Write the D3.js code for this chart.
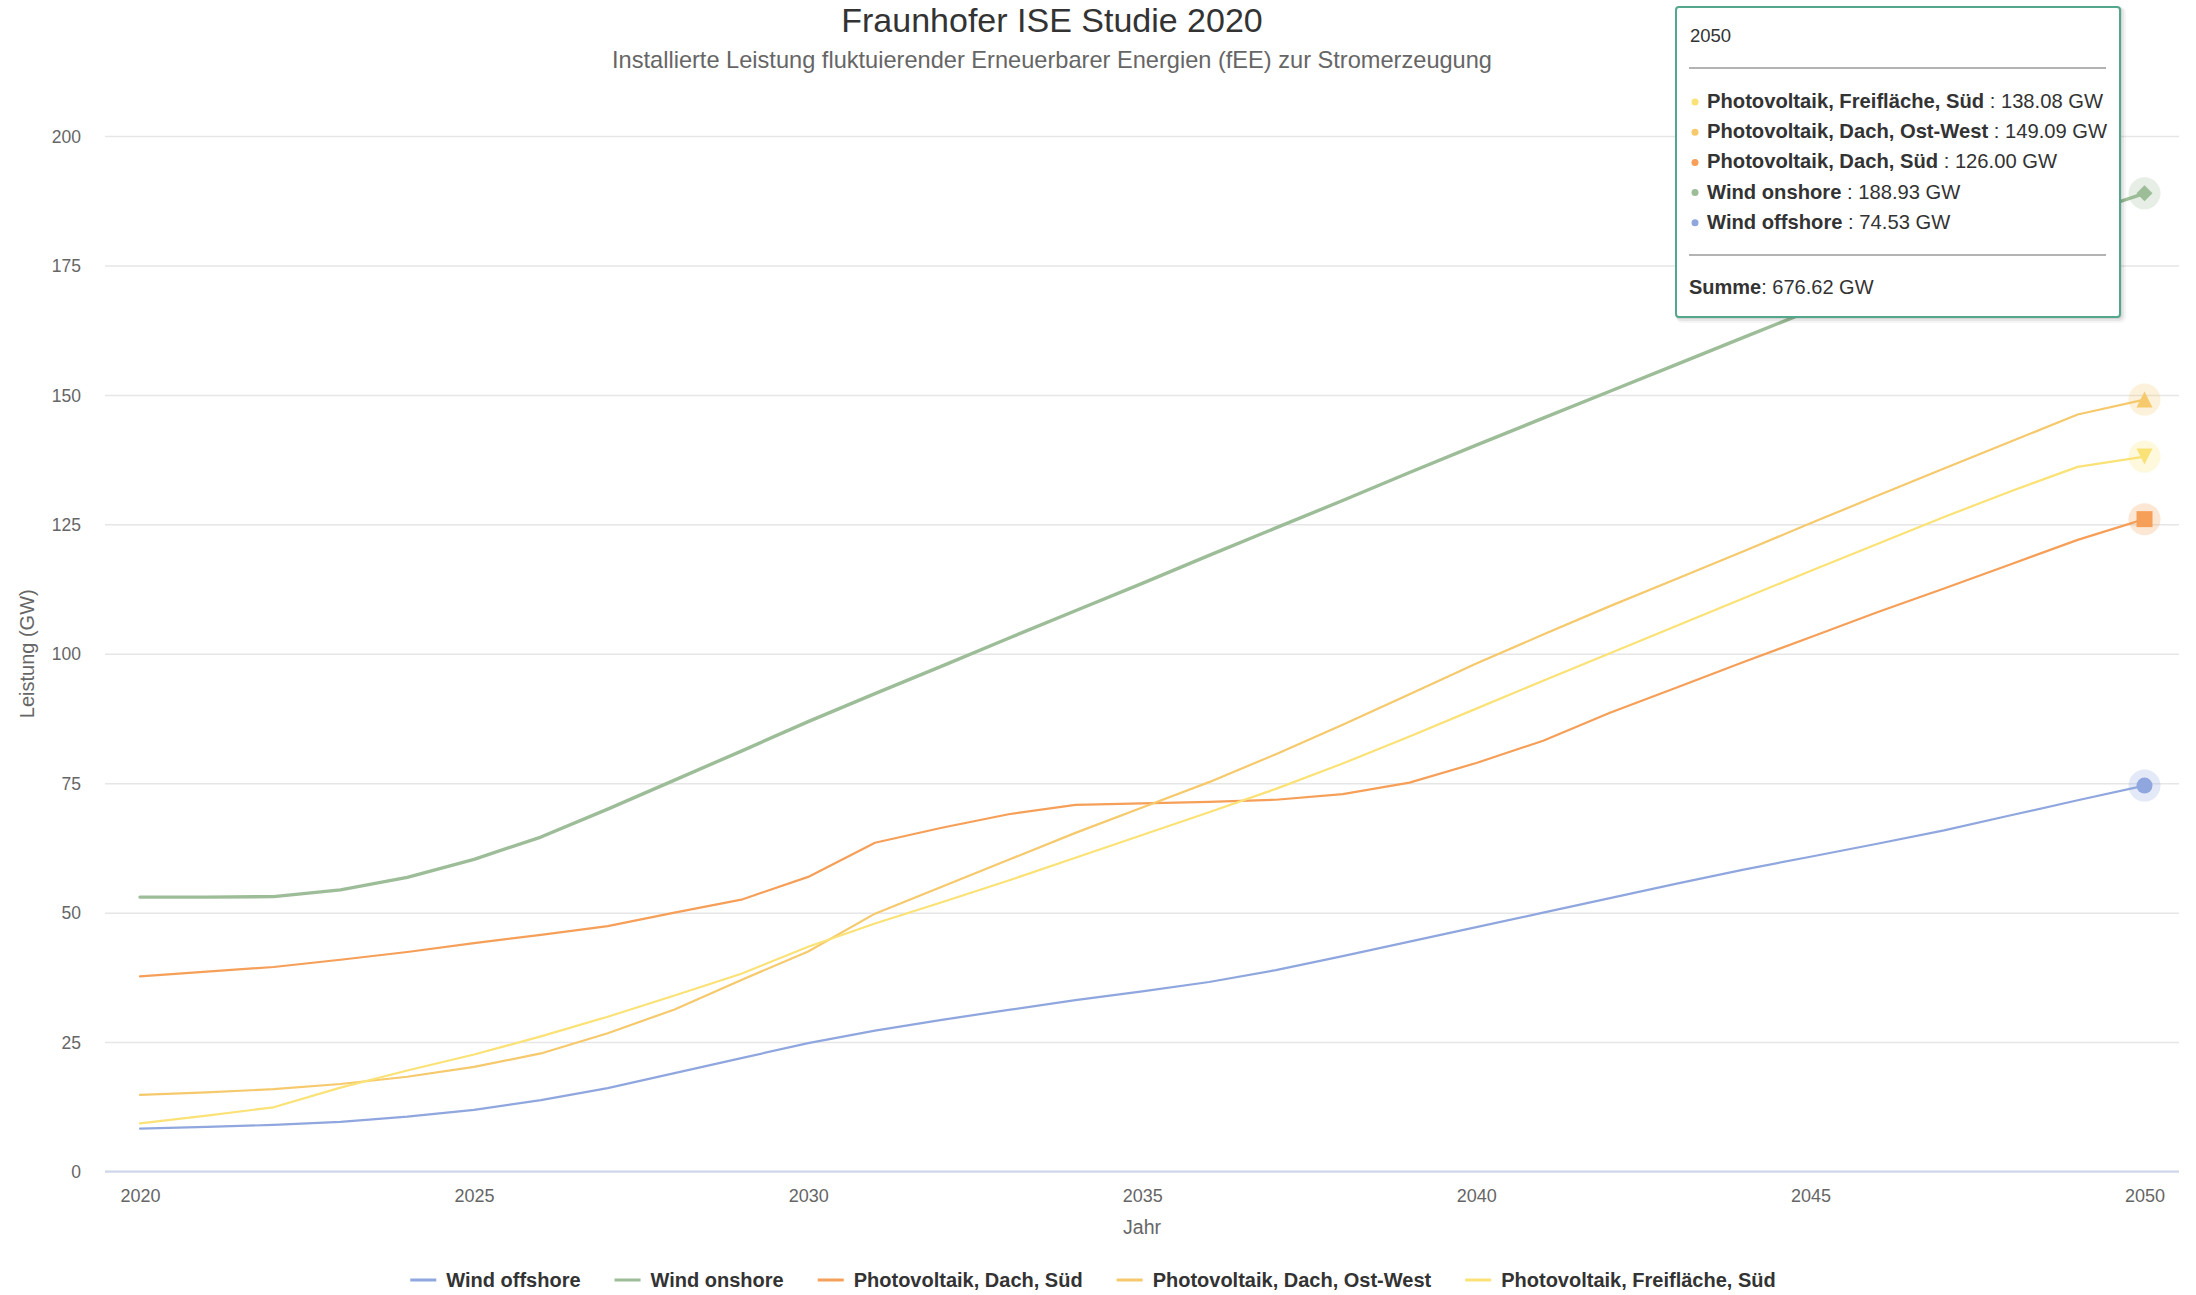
<!DOCTYPE html>
<html>
<head>
<meta charset="utf-8">
<script src="https://cdn.jsdelivr.net/npm/d3@7"></script>
<style>
  html, body { margin: 0; padding: 0; background: #ffffff; }
  svg { display: block; font-family: "Liberation Sans", Arial, Helvetica, sans-serif; }
</style>
</head>
<body>
<svg id="chart" width="2196" height="1295"></svg>
<script>
// ---------------- DATA ----------------
const titleText = "Fraunhofer ISE Studie 2020";
const subtitleText = "Installierte Leistung fluktuierender Erneuerbarer Energien (fEE) zur Stromerzeugung";
const yAxisTitle = "Leistung (GW)";
const xAxisTitle = "Jahr";

const years = [2020, 2021, 2022, 2023, 2024, 2025, 2026, 2027, 2028, 2029,
               2030, 2031, 2032, 2033, 2034, 2035, 2036, 2037, 2038, 2039,
               2040, 2041, 2042, 2043, 2044, 2045, 2046, 2047, 2048, 2049, 2050];

const xTickValues = [2020, 2025, 2030, 2035, 2040, 2045, 2050];
const yTickValues = [0, 25, 50, 75, 100, 125, 150, 175, 200];

const windOffshore = [8.3, 8.6, 9.0, 9.6, 10.6, 11.9, 13.8, 16.1, 19.0, 21.9,
                      24.8, 27.2, 29.3, 31.2, 33.1, 34.8, 36.6, 38.9, 41.6, 44.4,
                      47.2, 50.0, 52.8, 55.6, 58.3, 60.8, 63.3, 65.9, 68.8, 71.7, 74.53];

const windOnshore = [53.0, 53.0, 53.1, 54.4, 56.8, 60.3, 64.6, 70.0, 75.6, 81.2,
                     86.9, 92.3, 97.6, 103.0, 108.3, 113.6, 119.0, 124.3, 129.6, 135.0,
                     140.3, 145.5, 150.7, 155.9, 161.1, 166.3, 171.0, 175.6, 180.1, 184.6, 188.93];

const pvDachSued = [37.7, 38.6, 39.5, 40.9, 42.4, 44.1, 45.7, 47.4, 50.0, 52.5,
                    56.9, 63.5, 66.4, 69.0, 70.8, 71.1, 71.4, 71.8, 72.9, 75.1,
                    78.9, 83.2, 88.6, 93.5, 98.4, 103.2, 108.0, 112.6, 117.3, 122.0, 126.0];

const pvDachOstWest = [14.8, 15.3, 15.9, 16.9, 18.3, 20.2, 22.8, 26.7, 31.3, 37.0,
                       42.5, 49.8, 55.0, 60.2, 65.4, 70.3, 75.2, 80.6, 86.3, 92.2,
                       98.1, 103.7, 109.2, 114.5, 119.8, 125.2, 130.5, 135.8, 141.0, 146.2, 149.09];

const pvFreiflaecheSued = [9.3, 10.8, 12.4, 16.2, 19.5, 22.6, 26.1, 29.9, 34.0, 38.2,
                           43.4, 47.9, 52.0, 56.2, 60.6, 65.0, 69.4, 73.9, 78.8, 84.0,
                           89.4, 94.8, 100.1, 105.4, 110.7, 116.0, 121.2, 126.4, 131.4, 136.1, 138.08];

const seriesNames = ["Wind offshore", "Wind onshore", "Photovoltaik, Dach, Süd",
                     "Photovoltaik, Dach, Ost-West", "Photovoltaik, Freifläche, Süd"];
const seriesValues = [windOffshore, windOnshore, pvDachSued, pvDachOstWest, pvFreiflaecheSued];
const seriesColors = ["#8fa6de", "#9cbd97", "#f59f58", "#f5c96c", "#fae276"];
const seriesSymbols = ["circle", "diamond", "square", "triangle", "triangle-down"];

const tooltipYear = "2050";
const tooltipOrder = [4, 3, 2, 1, 0];
const tooltipSum = "676.62";
const unit = "GW";

// ---------------- LAYOUT ----------------
const svg = d3.select("#chart");
const W = 2196, H = 1295;
const plotLeft = 105, plotRight = 2179, plotTop = 136, plotBottom = 1171.5;

const x = d3.scaleLinear().domain([2020, 2050]).range([140, 2144.5]);
const y = d3.scaleLinear().domain([0, 200]).range([plotBottom, plotTop]);

svg.append("rect").attr("width", W).attr("height", H).attr("fill", "#ffffff");

// Title & subtitle
svg.append("text").attr("x", 1052).attr("y", 32).attr("text-anchor", "middle")
  .attr("font-size", 34).attr("fill", "#333333").text(titleText);
svg.append("text").attr("x", 1052).attr("y", 68).attr("text-anchor", "middle")
  .attr("font-size", 23.6).attr("fill", "#666666").text(subtitleText);

// Y grid + labels
const yAxis = d3.axisLeft(y).tickValues(yTickValues).tickSize(-(plotRight - plotLeft)).tickPadding(24);
const yg = svg.append("g").attr("transform", `translate(${plotLeft},0)`).call(yAxis);
yg.select(".domain").remove();
yg.selectAll(".tick line").attr("stroke", "#e6e6e6").attr("stroke-width", 1.5);
yg.selectAll(".tick text").attr("font-size", 17.5).attr("fill", "#666666")
  .attr("font-family", "Liberation Sans, Arial, sans-serif").attr("dy", "0.35em");

// X axis
const xAxis = d3.axisBottom(x).tickValues(xTickValues).tickFormat(d3.format("d")).tickSize(0).tickPadding(30);
const xg = svg.append("g").attr("transform", `translate(0,${plotBottom})`).call(xAxis);
xg.select(".domain").remove();
xg.selectAll(".tick text").attr("font-size", 18).attr("fill", "#666666")
  .attr("font-family", "Liberation Sans, Arial, sans-serif").attr("dy", "0");
svg.append("line").attr("x1", plotLeft).attr("x2", plotRight)
  .attr("y1", plotBottom).attr("y2", plotBottom)
  .attr("stroke", "#ccd6eb").attr("stroke-width", 2);

// Axis titles
svg.append("text").attr("transform", `translate(34,${(plotTop + plotBottom) / 2}) rotate(-90)`)
  .attr("text-anchor", "middle").attr("font-size", 20).attr("fill", "#666666").text(yAxisTitle);
svg.append("text").attr("x", (plotLeft + plotRight) / 2).attr("y", 1234)
  .attr("text-anchor", "middle").attr("font-size", 19.5).attr("fill", "#666666").text(xAxisTitle);

// Lines
const line = d3.line().x((d, i) => x(years[i])).y(d => y(d)).curve(d3.curveLinear);
const seriesG = svg.append("g");
seriesValues.forEach((vals, s) => {
  seriesG.append("path").datum(vals).attr("d", line)
    .attr("fill", "none").attr("stroke", seriesColors[s])
    .attr("stroke-width", s === 1 ? 3.4 : 2.2)
    .attr("stroke-linejoin", "round").attr("stroke-linecap", "round");
});

// Hover markers at last point
function symbolPath(type, cx, cy, r) {
  switch (type) {
    case "diamond":
      return `M${cx},${cy - r}L${cx + r},${cy}L${cx},${cy + r}L${cx - r},${cy}Z`;
    case "square":
      return `M${cx - r},${cy - r}H${cx + r}V${cy + r}H${cx - r}Z`;
    case "triangle":
      return `M${cx},${cy - r}L${cx + r},${cy + r}L${cx - r},${cy + r}Z`;
    case "triangle-down":
      return `M${cx - r},${cy - r}L${cx + r},${cy - r}L${cx},${cy + r}Z`;
    default:
      return `M${cx - r},${cy}a${r},${r} 0 1,0 ${2 * r},0a${r},${r} 0 1,0 ${-2 * r},0Z`;
  }
}
const last = years.length - 1;
seriesValues.forEach((vals, s) => {
  const cx = x(years[last]), cy = y(vals[last]);
  seriesG.append("circle").attr("cx", cx).attr("cy", cy).attr("r", 16)
    .attr("fill", seriesColors[s]).attr("fill-opacity", 0.25);
  seriesG.append("path").attr("d", symbolPath(seriesSymbols[s], cx, cy, 8))
    .attr("fill", seriesColors[s]);
});

// Legend
const legendG = svg.append("g");
const legendY = 1280;
const items = [];
seriesNames.forEach((name, s) => {
  const g = legendG.append("g");
  g.append("line").attr("x1", 0).attr("x2", 26).attr("y1", 0).attr("y2", 0)
    .attr("stroke", seriesColors[s]).attr("stroke-width", 3);
  const t = g.append("text").attr("x", 36).attr("y", 7).attr("font-size", 20)
    .attr("font-weight", "bold").attr("fill", "#333333").text(name);
  const w = 36 + t.node().getComputedTextLength();
  items.push({ g, w });
});
const gap = 34;
const totalW = d3.sum(items, d => d.w) + gap * (items.length - 1);
let lx = 1093 - totalW / 2;
items.forEach(it => {
  it.g.attr("transform", `translate(${lx},${legendY})`);
  lx += it.w + gap;
});

// Tooltip
const tip = svg.append("g");
const tx = 1676, ty = 7, tw = 444, th = 310;
[3, 2, 1].forEach((o, k) => {
  tip.append("rect").attr("x", tx + o).attr("y", ty + o).attr("width", tw).attr("height", th)
    .attr("rx", 3).attr("fill", "none").attr("stroke", "#000").attr("stroke-opacity", 0.04 + 0.02 * k)
    .attr("stroke-width", 2 * o);
});
tip.append("rect").attr("x", tx).attr("y", ty).attr("width", tw).attr("height", th)
  .attr("rx", 3).attr("fill", "#ffffff").attr("stroke", "#52a78c").attr("stroke-width", 2);

tip.append("text").attr("x", 1690).attr("y", 42).attr("font-size", 18.5).attr("fill", "#333333").text(tooltipYear);
tip.append("line").attr("x1", 1689).attr("x2", 2106).attr("y1", 68).attr("y2", 68)
  .attr("stroke", "#9a9a9a").attr("stroke-width", 1.5);

tooltipOrder.forEach((s, k) => {
  const by = 108 + k * 30.2;
  tip.append("circle").attr("cx", 1695).attr("cy", by - 6).attr("r", 3.5).attr("fill", seriesColors[s]);
  const t = tip.append("text").attr("x", 1707).attr("y", by).attr("font-size", 20.2).attr("fill", "#333333");
  t.append("tspan").attr("font-weight", "bold").text(seriesNames[s]);
  t.append("tspan").text(" : " + seriesValues[s][last].toFixed(2) + " " + unit);
});
tip.append("line").attr("x1", 1689).attr("x2", 2106).attr("y1", 255).attr("y2", 255)
  .attr("stroke", "#9a9a9a").attr("stroke-width", 1.5);
const st = tip.append("text").attr("x", 1689).attr("y", 294).attr("font-size", 20).attr("fill", "#333333");
st.append("tspan").attr("font-weight", "bold").text("Summe");
st.append("tspan").text(": " + tooltipSum + " " + unit);
</script>
</body>
</html>
